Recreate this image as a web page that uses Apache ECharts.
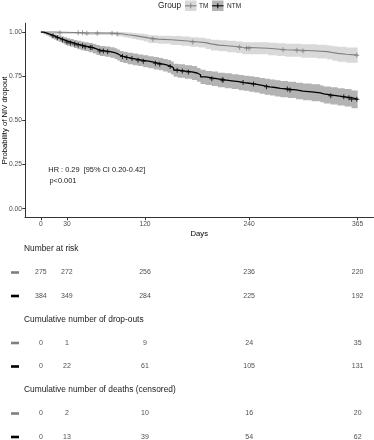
<!DOCTYPE html>
<html><head><meta charset="utf-8">
<script src="https://cdn.jsdelivr.net/npm/echarts@6/dist/echarts.min.js"></script>
<style>html,body{margin:0;padding:0;background:#fff}#c{width:374px;height:440px}</style>
</head><body><div id="c"></div>
<script>
// ---------- data ----------
const groups = ['TM', 'NTM'];
const xTicks = [0, 30, 120, 240, 365];
const yTicks = [0, 0.25, 0.5, 0.75, 1];

const tmTimes = [0,15,50,88,95,100,105,110,115,119,124,135,150,162,172,182,190,196,205,215,225,232,262,272,282,300,318,330,336,342,352,365];
const tmSurv  = [1,.996,.993,.989,.985,.982,.978,.974,.971,.967,.960,.956,.952,.948,.944,.940,.933,.926,.922,.918,.914,.908,.904,.900,.897,.893,.889,.884,.879,.874,.869,.869];
const tmLower = [1,.989,.983,.976,.971,.966,.961,.956,.952,.947,.938,.933,.927,.922,.917,.912,.904,.896,.891,.886,.881,.874,.869,.864,.860,.855,.850,.844,.838,.832,.826,.826];
const tmUpper = [1,1,1,1,.999,.998,.995,.992,.990,.987,.982,.979,.977,.974,.971,.968,.962,.956,.953,.950,.947,.942,.939,.936,.934,.931,.928,.924,.920,.916,.912,.912];
const tmCensor = [22,43,48,53,65,82,88,129,175,229,237,240,279,295,302,364];

const ntmTimes = [0,3,6,9,12,15,18,21,24,27,30,34,38,42,46,50,55,60,64,68,74,80,85,88,91,95,100,106,112,118,124,130,136,141,146,150,153,158,166,174,180,184,190,197,204,212,220,228,234,240,246,252,258,264,270,276,285,294,302,312,322,326,334,342,350,358,365];
const ntmSurv  = [1,.995,.990,.985,.979,.973,.967,.962,.956,.950,.944,.938,.932,.927,.922,.917,.912,.905,.898,.893,.889,.884,.878,.870,.862,.856,.850,.845,.840,.835,.829,.823,.818,.812,.805,.796,.784,.779,.774,.768,.758,.746,.740,.735,.729,.724,.719,.714,.710,.706,.701,.695,.690,.686,.681,.677,.672,.666,.661,.656,.650,.644,.639,.633,.628,.619,.619];
const ntmLower = [1,.988,.980,.973,.965,.958,.950,.944,.937,.930,.923,.916,.909,.903,.897,.892,.886,.878,.870,.865,.860,.854,.848,.839,.831,.824,.818,.812,.807,.801,.795,.788,.783,.776,.769,.759,.747,.741,.736,.729,.719,.706,.700,.694,.688,.682,.677,.671,.667,.662,.657,.650,.645,.641,.635,.631,.626,.619,.614,.608,.602,.596,.590,.584,.578,.569,.569];
const ntmUpper = [1,1,1,.997,.993,.988,.984,.980,.975,.970,.965,.960,.955,.951,.947,.942,.938,.932,.926,.921,.918,.914,.908,.901,.893,.888,.882,.878,.873,.869,.863,.858,.853,.848,.841,.833,.821,.817,.812,.807,.797,.786,.780,.776,.770,.766,.761,.757,.753,.750,.745,.740,.735,.731,.727,.723,.718,.713,.708,.704,.698,.692,.688,.682,.678,.669,.669];
const ntmCensor = [14,19,25,30,34,39,43,48,51,57,59,68,72,77,94,99,105,112,118,132,137,149,157,163,170,197,209,210,233,245,260,284,287,334,349,355,358,364];

const tableTimes = [0, 30, 120, 240, 365];
const tableHeaders = ['Number at risk', 'Cumulative number of drop-outs', 'Cumulative number of deaths (censored)'];
const riskTM = [275,272,256,236,220];
const riskNTM = [384,349,284,225,192];
const dropTM = [0,1,9,24,35];
const dropNTM = [0,22,61,105,131];
const deathTM = [0,2,10,16,20];
const deathNTM = [0,13,39,54,62];

const hrText = 'HR : 0.29  [95% CI 0.20-0.42]';
const pText = 'p<0.001';

// ---------- styles ----------
const FONT = 'Liberation Sans, Arial, sans-serif';
const colTM = '#7f7f7f', colNTM = '#000000';
const bandTM = '#d9d9d9', bandNTM = '#b3b3b3';
const PLUS = 'path://M-0.2,-1H0.2V-0.2H1V0.2H0.2V1H-0.2V0.2H-1V-0.2H-0.2Z';

function pairs(t, v) { return t.map((x, i) => [x, v[i]]); }
function survAt(t, s, x) { let v = s[0]; for (let i = 0; i < t.length; i++) if (t[i] <= x) v = s[i]; return v; }
function bandSeries(times, lo, up, color, z) {
  return {
    type: 'custom', data: [[times[0], lo[0]]], silent: true, z: z, clip: true,
    renderItem: (params, api) => {
      const pts = [];
      for (let i = 0; i < times.length; i++) {
        pts.push(api.coord([times[i], up[i]]));
        if (i + 1 < times.length) pts.push(api.coord([times[i + 1], up[i]]));
      }
      for (let i = times.length - 1; i >= 0; i--) {
        if (i + 1 < times.length) pts.push(api.coord([times[i + 1], lo[i]]));
        pts.push(api.coord([times[i], lo[i]]));
      }
      return {type: 'polygon', shape: {points: pts}, style: {fill: color, stroke: null}};
    }
  };
}

const chart = echarts.init(document.getElementById('c'), null, {renderer: 'canvas'});

const tableRows = ['h0','TM','NTM','h1','TM','NTM','h2','TM','NTM'];
const tableValues = [null, riskTM, riskNTM, null, dropTM, dropNTM, null, deathTM, deathNTM];
const tableData = [];
tableValues.forEach((vals, r) => { if (vals) vals.forEach((v, j) => tableData.push([tableTimes[j], r, v])); });

const axisLineStyle = {color: '#333', width: 1};

const option = {
  animation: false,
  grid: [
    {left: 25, right: 0.5, top: 23.2, bottom: 222.5, outerBoundsMode: 'none', containLabel: false},
    {left: 25, right: 0.5, top: 249, bottom: 3, outerBoundsMode: 'none', containLabel: false}
  ],
  xAxis: [
    {type: 'value', gridIndex: 0, min: -18.25, max: 383.25, z: 10,
     name: 'Days', nameLocation: 'middle', nameGap: 12, nameMoveOverlap: false,
     nameTextStyle: {fontFamily: FONT, fontSize: 7.7, color: '#000'},
     axisLine: {show: true, onZero: false, lineStyle: axisLineStyle},
     axisTick: {show: true, length: 2.7, lineStyle: axisLineStyle, customValues: xTicks},
     axisLabel: {fontFamily: FONT, fontSize: 6.7, color: '#4d4d4d', margin: 3.5, customValues: xTicks, formatter: v => String(v)},
     splitLine: {show: false}},
    {type: 'value', gridIndex: 1, min: -18.25, max: 383.25, show: false}
  ],
  yAxis: [
    {type: 'value', gridIndex: 0, min: -0.05, max: 1.05, z: 10,
     name: 'Probability of NIV dropout', nameLocation: 'middle', nameGap: 16.5, nameMoveOverlap: false,
     nameTextStyle: {fontFamily: FONT, fontSize: 7.7, color: '#000'},
     axisLine: {show: true, onZero: false, lineStyle: axisLineStyle},
     axisTick: {show: true, length: 2.7, lineStyle: axisLineStyle, customValues: yTicks},
     axisLabel: {fontFamily: FONT, fontSize: 6.7, color: '#4d4d4d', margin: 3, customValues: yTicks, formatter: v => v.toFixed(2)},
     splitLine: {show: false}},
    {type: 'category', gridIndex: 1, data: tableRows, inverse: true, boundaryGap: false, show: false}
  ],
  series: [
    bandSeries(tmTimes, tmLower, tmUpper, bandTM, 1),
    bandSeries(ntmTimes, ntmLower, ntmUpper, bandNTM, 2),
    {type: 'line', name: 'TM', data: pairs(tmTimes, tmSurv), step: 'end', symbol: 'none', lineStyle: {color: colTM, width: 1.1}, z: 3},
    {type: 'line', name: 'NTM', data: pairs(ntmTimes, ntmSurv), step: 'end', symbol: 'none', lineStyle: {color: colNTM, width: 1.3}, z: 4},
    {type: 'scatter', name: 'TMc', data: tmCensor.map(t => [t, survAt(tmTimes, tmSurv, t)]), symbol: PLUS, symbolSize: 5, itemStyle: {color: colTM}, z: 5},
    {type: 'scatter', name: 'NTMc', data: ntmCensor.map(t => [t, survAt(ntmTimes, ntmSurv, t)]), symbol: PLUS, symbolSize: 5, itemStyle: {color: colNTM}, z: 6},
    {type: 'scatter', name: 'table', xAxisIndex: 1, yAxisIndex: 1, data: tableData, symbolSize: 1, itemStyle: {color: 'rgba(0,0,0,0)'},
     label: {show: true, position: 'inside', formatter: p => String(p.value[2]), fontFamily: FONT, fontSize: 7, color: '#1a1a1a'}}
  ]
};
chart.setOption(option);

// ---------- annotations, legend, table headers ----------
const g = [];
const txt = (x, y, s, size, extra) => g.push(Object.assign({type: 'text', x: x, y: y, style: Object.assign({text: s, fontFamily: FONT, fontSize: size, fill: '#1a1a1a', textVerticalAlign: 'middle', textAlign: 'left'}, extra || {})}));
txt(48.3, 169.5, hrText, 7.4);
txt(49.5, 180.5, pText, 7.4);
txt(158, 5.8, 'Group', 8.3);
const keys = [{x: 185, band: bandTM, col: colTM, label: groups[0], lx: 199}, {x: 212, band: bandNTM, col: colNTM, label: groups[1], lx: 227}];
keys.forEach(k => {
  g.push({type: 'rect', shape: {x: k.x, y: 0.5, width: 11.5, height: 10.5}, style: {fill: k.band}});
  g.push({type: 'line', shape: {x1: k.x, y1: 5.8, x2: k.x + 11.5, y2: 5.8}, style: {stroke: k.col, lineWidth: 1.1}});
  g.push({type: 'line', shape: {x1: k.x + 5.75, y1: 3.3, x2: k.x + 5.75, y2: 8.3}, style: {stroke: k.col, lineWidth: 1}});
  txt(k.lx, 5.8, k.label, 6.5);
});
tableRows.forEach((r, i) => {
  const y = chart.convertToPixel({yAxisIndex: 1}, i);
  if (r.charAt(0) === 'h') {
    txt(24, y, tableHeaders[+r.charAt(1)], 8.4);
  } else {
    g.push({type: 'rect', shape: {x: 11, y: y - 1.3, width: 8, height: 2.6}, style: {fill: r === 'TM' ? colTM : colNTM}});
  }
});
chart.setOption({graphic: g});
</script>
</body></html>
